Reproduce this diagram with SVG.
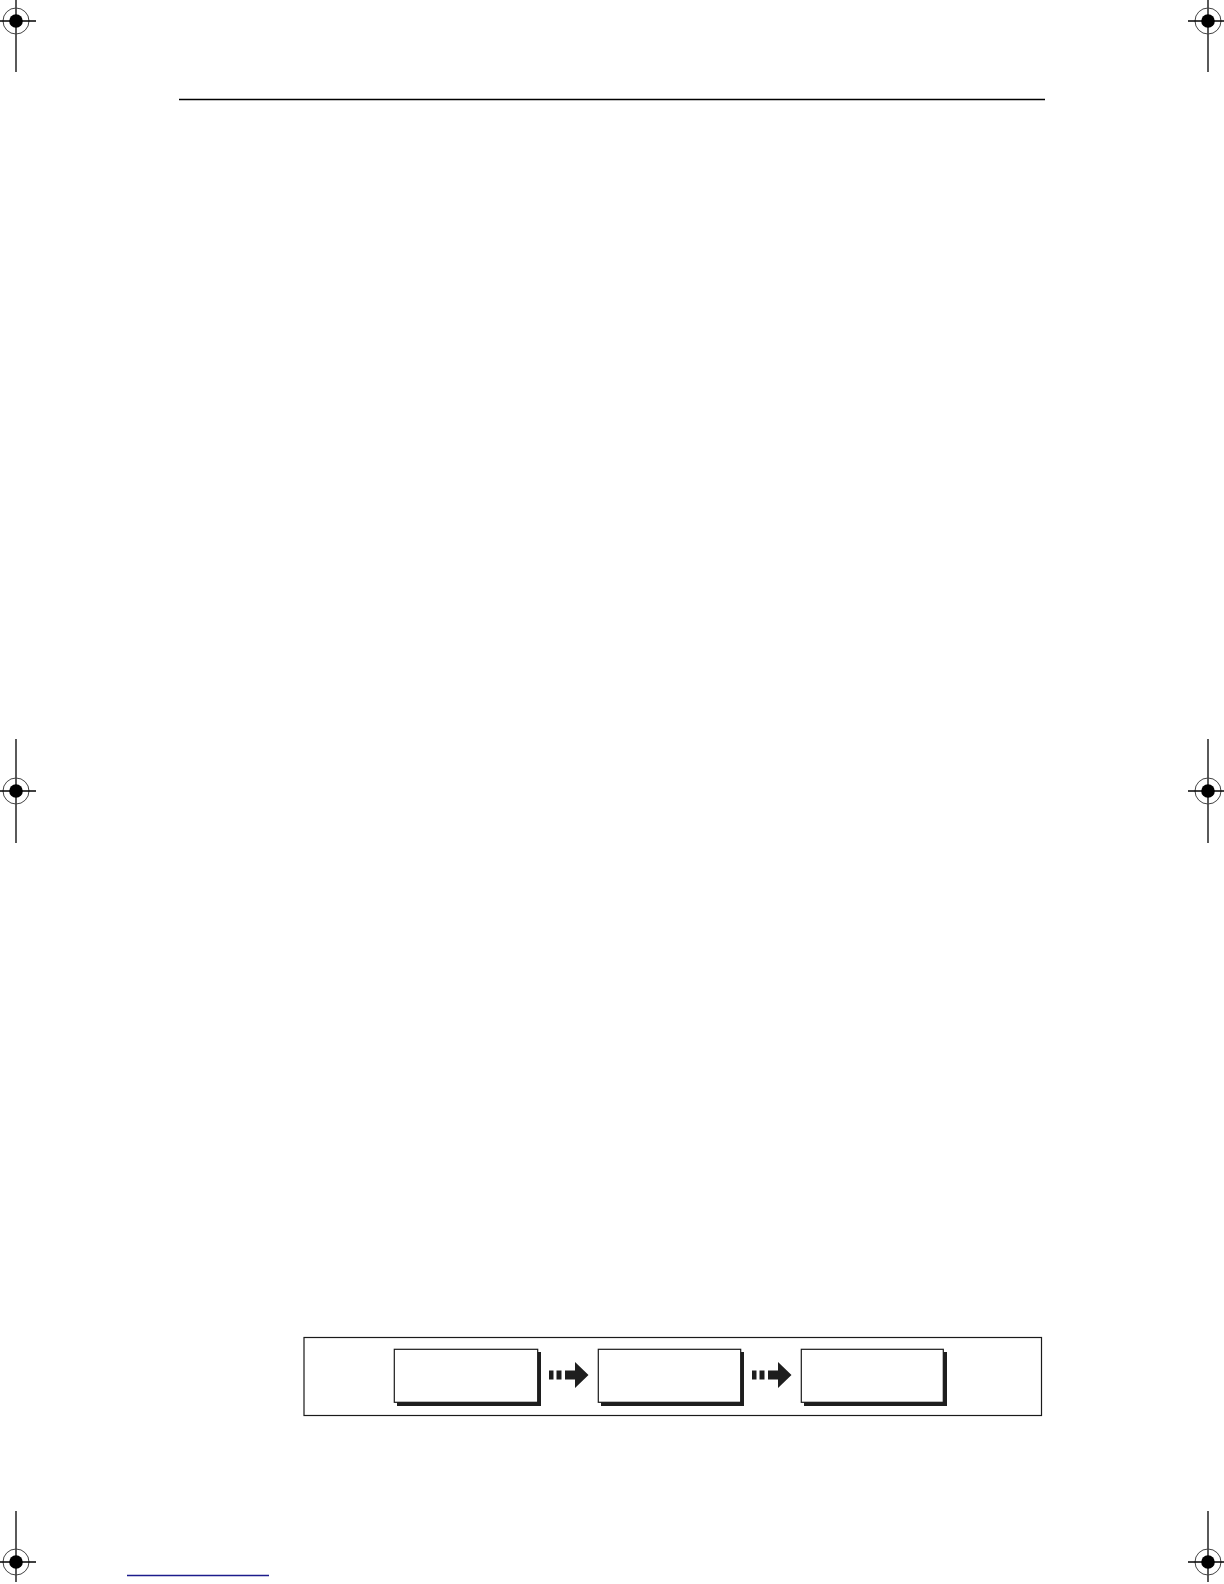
<svg xmlns="http://www.w3.org/2000/svg" width="1224" height="1584" viewBox="0 0 1224 1584">
<defs>
<style>
.reg-line{stroke:#000;stroke-width:1.3;fill:none}
.reg-ring{stroke:#444;stroke-width:1;fill:none}
.box{fill:#fff;stroke:#1a1a1a;stroke-width:1.2}
.shadow{fill:#1e1e1e}
.frame{fill:none;stroke:#1a1a1a;stroke-width:1.2}
.arrow{fill:#1e1e1e}
</style>
<g id="reg">
<circle class="reg-ring" cx="0" cy="0" r="13"/>
<circle cx="0" cy="0" r="6.8" fill="#000"/>
<line class="reg-line" x1="-20" y1="0" x2="20" y2="0"/>
</g>
<g id="arr">
<rect class="arrow" x="0" y="-4.5" width="4.5" height="9"/>
<rect class="arrow" x="7.5" y="-4.5" width="5" height="9"/>
<polygon class="arrow" points="16,-4.5 26,-4.5 26,-13 39.5,0 26,13 26,4.5 16,4.5"/>
</g>
</defs>
<rect width="1224" height="1584" fill="#fff"/>

<g id="registration-marks">
<line class="reg-line" x1="16" y1="0" x2="16" y2="72"/>
<use href="#reg" x="16" y="21"/>
<line class="reg-line" x1="1208" y1="0" x2="1208" y2="72"/>
<use href="#reg" x="1208" y="21"/>
<line class="reg-line" x1="16" y1="739" x2="16" y2="843"/>
<use href="#reg" x="16" y="791"/>
<line class="reg-line" x1="1208" y1="739" x2="1208" y2="843"/>
<use href="#reg" x="1208" y="791"/>
<line class="reg-line" x1="16" y1="1511" x2="16" y2="1582"/>
<use href="#reg" x="16" y="1562"/>
<line class="reg-line" x1="1208" y1="1511" x2="1208" y2="1582"/>
<use href="#reg" x="1208" y="1562"/>
</g>

<line id="header-rule" x1="179" y1="99.5" x2="1045" y2="99.5" stroke="#000" stroke-width="1.3"/>
<line id="footer-link" x1="127" y1="1575.5" x2="269" y2="1575.5" stroke="#1c1c8c" stroke-width="1.3"/>

<rect id="frame" class="frame" x="304" y="1337.5" width="737.5" height="78"/>

<g id="node1">
<rect class="shadow" x="397" y="1352" width="144" height="54"/>
<rect class="box" x="394.3" y="1349.3" width="143.4" height="53"/>
</g>
<g id="node2">
<rect class="shadow" x="601" y="1352" width="143" height="54"/>
<rect class="box" x="598.3" y="1349.3" width="142.4" height="53"/>
</g>
<g id="node3">
<rect class="shadow" x="804" y="1352" width="143" height="54"/>
<rect class="box" x="801.3" y="1349.3" width="142" height="53"/>
</g>

<g id="connectors">
<use href="#arr" x="549" y="1375"/>
<use href="#arr" x="752" y="1375"/>
</g>
</svg>
